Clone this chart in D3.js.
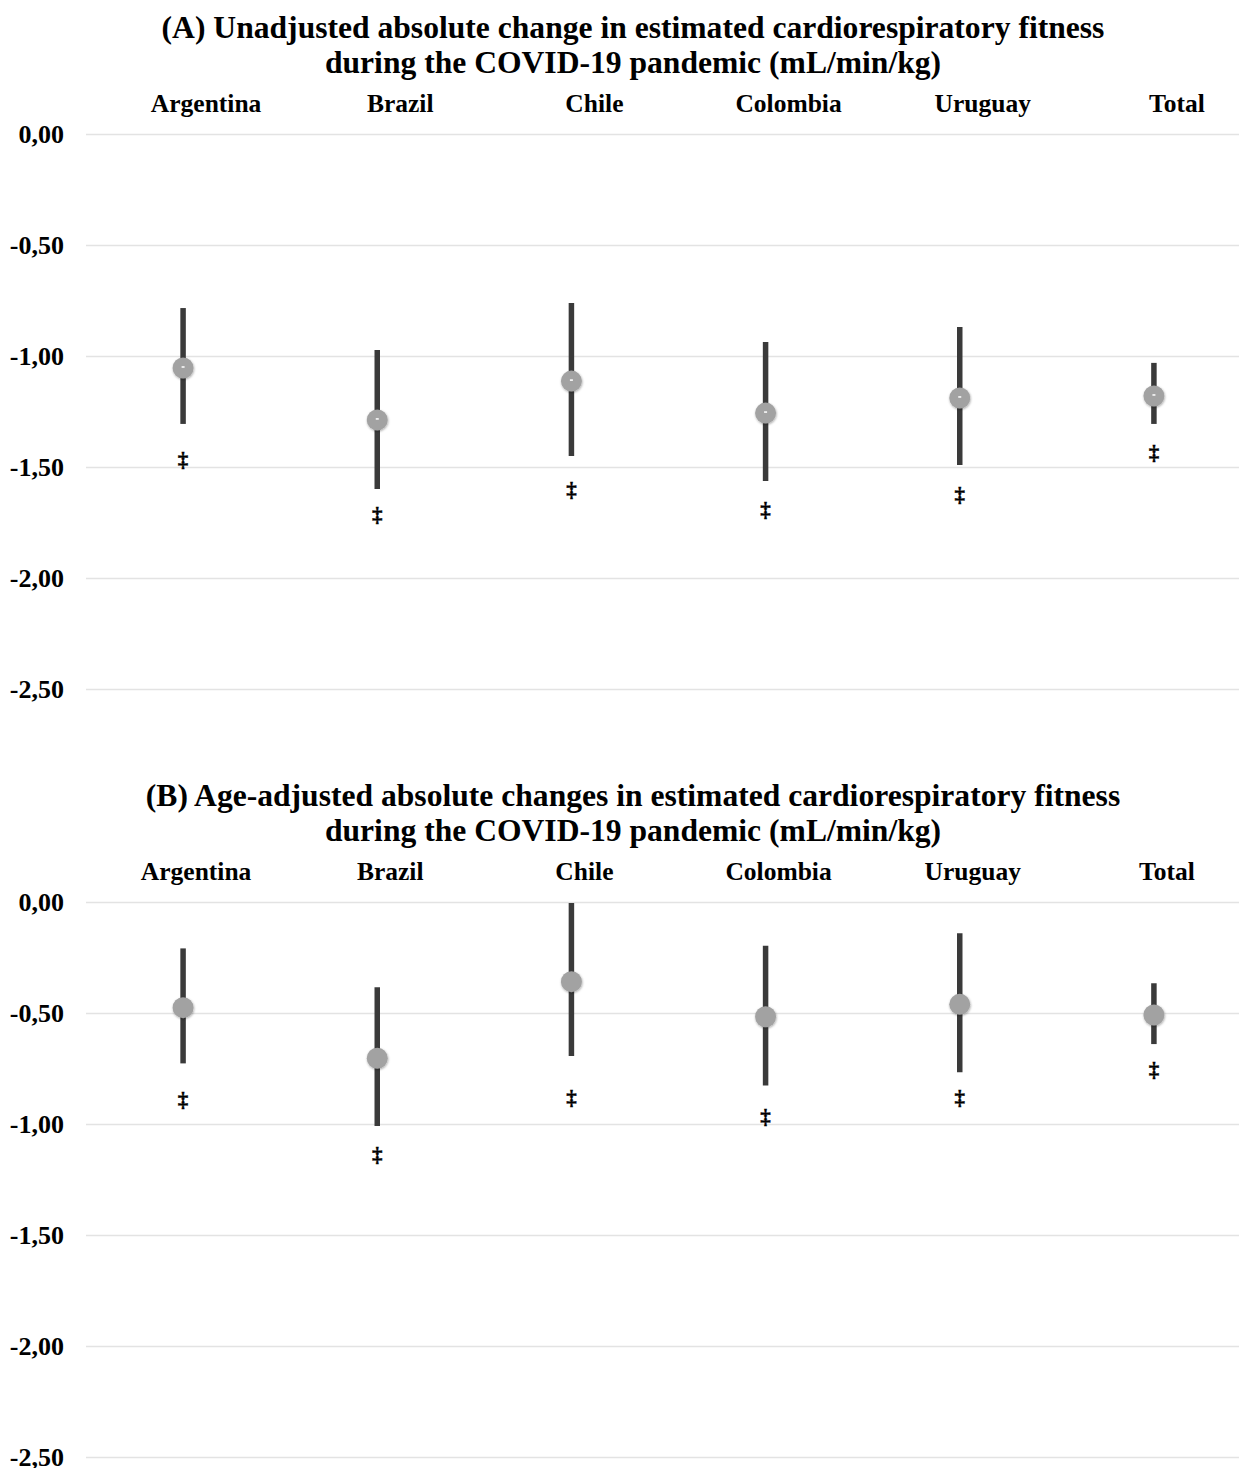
<!DOCTYPE html>
<html>
<head>
<meta charset="utf-8">
<script src="https://cdn.jsdelivr.net/npm/d3@7"></script>
<style>
  html, body { margin: 0; padding: 0; background: #fff; }
  svg { display: block; }
  text { font-family: "Liberation Serif", "Times New Roman", serif; font-weight: bold; fill: #000; }
</style>
</head>
<body>
<svg id="chart" width="1239" height="1468"></svg>
<script>
// ---------- data ----------
const categories = ["Argentina", "Brazil", "Chile", "Colombia", "Uruguay", "Total"];
const yTicks = [0, -0.5, -1, -1.5, -2, -2.5];

// Panel A: unadjusted
const estA   = [-1.054, -1.288, -1.113, -1.257, -1.189, -1.180];
const upperA = [-0.784, -0.973, -0.761, -0.937, -0.869, -1.031];
const lowerA = [-1.306, -1.599, -1.450, -1.563, -1.491, -1.306];
const markA  = [-1.468, -1.716, -1.604, -1.694, -1.626, -1.437];

// Panel B: age-adjusted
const estB   = [-0.476, -0.704, -0.359, -0.517, -0.461, -0.509];
const upperB = [-0.209, -0.384, -0.004, -0.197, -0.141, -0.366];
const lowerB = [-0.727, -1.009, -0.694, -0.827, -0.767, -0.640];
const markB  = [-0.892, -1.140, -0.883, -0.968, -0.883, -0.757];

const titleA = ["(A) Unadjusted absolute change in estimated cardiorespiratory fitness",
                "during the COVID-19 pandemic (mL/min/kg)"];
const titleB = ["(B) Age-adjusted absolute changes in estimated cardiorespiratory fitness",
                "during the COVID-19 pandemic (mL/min/kg)"];
const markSymbol = "\u2021";

// ---------- drawing ----------
const svg = d3.select("#chart");
const defs = svg.append("defs");
const f = defs.append("filter").attr("id", "shadow").attr("x", "-50%").attr("y", "-50%").attr("width", "200%").attr("height", "200%");
f.append("feDropShadow").attr("dx", 0.5).attr("dy", 1).attr("stdDeviation", 1.2)
  .attr("flood-color", "#000").attr("flood-opacity", 0.35);

const loc = d3.formatLocale({decimal: ",", thousands: ".", grouping: [3], currency: ["", ""], minus: "-"});
const fmt = loc.format(".2f");

const x = d3.scaleBand().domain(categories).range([86, 1251]).paddingInner(0).paddingOuter(0);
const cx = c => x(c) + x.bandwidth() / 2;

function panel(opts) {
  const g = svg.append("g");
  const y = d3.scaleLinear().domain([0, -2.5]).range([opts.top, opts.top + 555]);

  // titles
  g.selectAll("text.title").data(opts.title).join("text")
    .attr("class", "title")
    .attr("x", 633).attr("y", (d, i) => opts.titleY + i * 35)
    .attr("text-anchor", "middle")
    .style("font-size", "31.6px")
    .text(d => d);

  // category labels
  g.selectAll("text.cat").data(categories).join("text")
    .attr("class", "cat")
    .attr("x", d => cx(d) + opts.labelDx).attr("y", opts.catY)
    .attr("text-anchor", "middle")
    .style("font-size", "25.5px")
    .text(d => d);

  // gridlines + tick labels via axis
  const axis = d3.axisLeft(y).tickValues(yTicks).tickFormat(fmt).tickSize(-(1239 - 86)).tickPadding(22);
  const ag = g.append("g").attr("transform", "translate(86,0)").call(axis);
  ag.select(".domain").remove();
  ag.selectAll(".tick line").attr("stroke", "#e3e3e3").attr("stroke-width", 1.6);
  ag.selectAll(".tick text")
    .style("font-family", "'Liberation Serif', 'Times New Roman', serif")
    .style("font-weight", "bold").style("font-size", "26px").attr("fill", "#000")
    .attr("dy", "0.32em");

  const rows = categories.map((c, i) => ({c, est: opts.est[i], up: opts.upper[i], lo: opts.lower[i], mk: opts.mark[i]}));

  // whiskers
  g.selectAll("line.ci").data(rows).join("line")
    .attr("class", "ci")
    .attr("x1", d => cx(d.c)).attr("x2", d => cx(d.c))
    .attr("y1", d => y(d.up)).attr("y2", d => y(d.lo))
    .attr("stroke", "#3a3a3a").attr("stroke-width", 5.5);

  // points
  g.selectAll("circle.pt").data(rows).join("circle")
    .attr("class", "pt")
    .attr("cx", d => cx(d.c)).attr("cy", d => y(d.est))
    .attr("r", 10.5)
    .attr("fill", "#a2a2a2")
    .attr("filter", "url(#shadow)");

  if (opts.dash) {
    g.selectAll("line.dash").data(rows).join("line")
      .attr("class", "dash")
      .attr("x1", d => cx(d.c) - 1.5).attr("x2", d => cx(d.c) + 1.5)
      .attr("y1", d => y(d.est) - 1).attr("y2", d => y(d.est) - 1)
      .attr("stroke", "#fff").attr("stroke-width", 1.5);
  }

  // significance marks
  g.selectAll("text.mk").data(rows).join("text")
    .attr("class", "mk")
    .attr("x", d => cx(d.c)).attr("y", d => y(d.mk))
    .attr("dy", "0.35em")
    .attr("text-anchor", "middle")
    .style("font-size", "21px").style("font-weight", "bold")
    .attr("stroke", "#000").attr("stroke-width", 0.4)
    .text(markSymbol);
}

panel({top: 134, titleY: 38, catY: 112, labelDx: 23, title: titleA,
       est: estA, upper: upperA, lower: lowerA, mark: markA, dash: true});
panel({top: 902, titleY: 806, catY: 880, labelDx: 13, title: titleB,
       est: estB, upper: upperB, lower: lowerB, mark: markB, dash: false});
</script>
</body>
</html>
